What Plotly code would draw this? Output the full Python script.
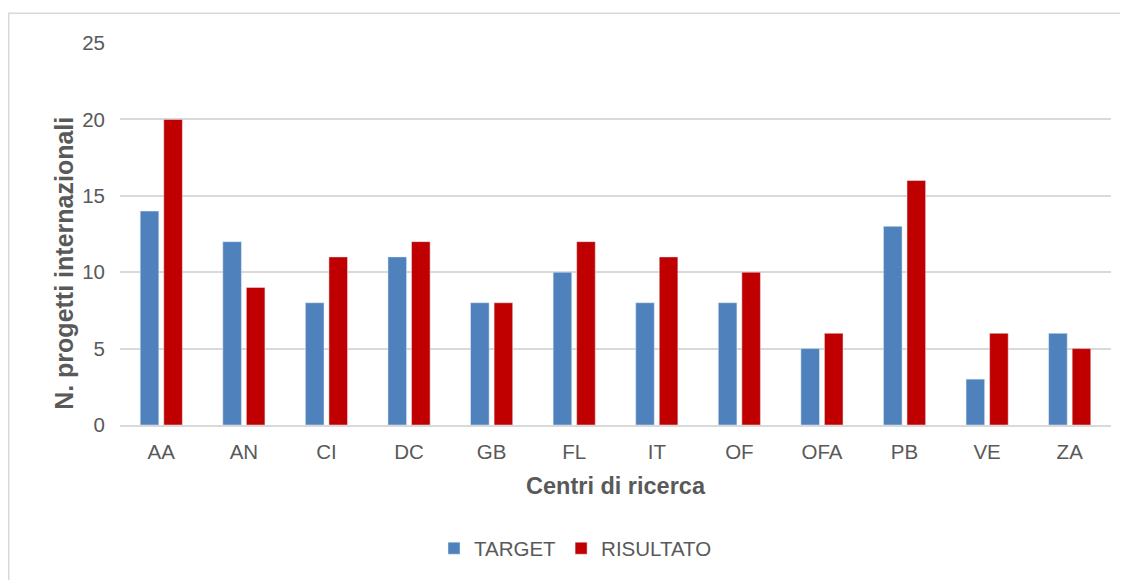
import plotly.graph_objects as go

categories = ["AA", "AN", "CI", "DC", "GB", "FL", "IT", "OF", "OFA", "PB", "VE", "ZA"]
target = [14, 12, 8, 11, 8, 10, 8, 8, 5, 13, 3, 6]
risultato = [20, 9, 11, 12, 8, 12, 11, 10, 6, 16, 6, 5]

OFF = 8  # page body margin
W, H = 1128 - OFF, 580 - OFF
L, R, T, B = 120 - OFF, 17, 43 - OFF, 153
pw, ph = W - L - R, H - T - B


def px_x(p):
    return (p - OFF - L) / pw


def px_y(p):
    return (T + ph - (p - OFF)) / ph


fig = go.Figure()
fig.add_trace(go.Bar(x=categories, y=target, name="TARGET", marker_color="#4F81BD"))
fig.add_trace(go.Bar(x=categories, y=risultato, name="RISULTATO", marker_color="#C00000"))

font_family = "Liberation Sans, Arial, sans-serif"
fig.update_layout(
    width=W, height=H,
    margin=dict(l=L, r=R, t=T, b=B),
    paper_bgcolor="white", plot_bgcolor="white",
    barmode="group", bargap=0.43, bargroupgap=0.21,
    font=dict(family=font_family, color="#595959", size=20.5),
    legend=dict(orientation="h", x=0.5 - 40 / pw, xanchor="center", y=px_y(551), yanchor="middle",
                font=dict(size=20.5, color="#595959"), itemwidth=30, traceorder="normal"),
    xaxis=dict(
        title=dict(text="<b>Centri di ricerca</b>", font=dict(size=23.5, color="#595959"), standoff=15),
        tickfont=dict(size=20.5, color="#595959"),
        showline=True, linecolor="#d9d9d9", linewidth=1.5, ticks="", showgrid=False,
        ticklabelstandoff=8,
    ),
    yaxis=dict(
        tickfont=dict(size=20.5, color="#595959"),
        range=[0, 25], dtick=5, showgrid=True, gridcolor="#d9d9d9", gridwidth=1.5,
        zeroline=False, showline=False, ticks="", ticklabelstandoff=14,
    ),
    annotations=[dict(text="<b>N. progetti internazionali</b>", textangle=-90,
                      xref="paper", yref="paper", x=px_x(64), y=px_y(265),
                      xanchor="center", yanchor="middle", showarrow=False,
                      font=dict(size=25, color="#595959", family=font_family))],
    shapes=[dict(type="rect", xref="paper", yref="paper",
                 x0=(0.75 - L) / pw, x1=(W + 5 - L) / pw,
                 y0=(T + ph - (H + 5)) / ph, y1=1 + (T - 5) / ph,
                 line=dict(color="#d9d9d9", width=1.5), fillcolor="rgba(0,0,0,0)", layer="below")],
)

fig.write_html("out.html")
